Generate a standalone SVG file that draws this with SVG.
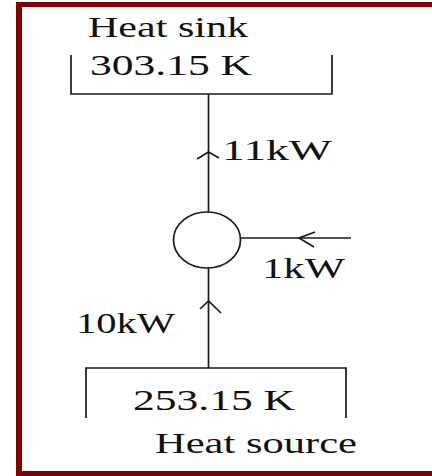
<svg xmlns="http://www.w3.org/2000/svg" width="432" height="476" viewBox="0 0 432 476">
  <style>
    .ln { fill: none; stroke: #1a1a1a; stroke-width: 1.7; }
    .tx { font-family: "Liberation Serif", "Times New Roman", serif; font-size: 30px; fill: #111; }
    .frame { fill: none; stroke: #800000; }
  </style>
  <rect x="0" y="0" width="432" height="476" fill="#ffffff"/>
  <g id="frame">
    <line class="frame" x1="19" y1="2" x2="19" y2="476" stroke-width="6"/>
    <line class="frame" x1="16" y1="4.5" x2="432" y2="4.5" stroke-width="5"/>
    <line class="frame" x1="16" y1="473.5" x2="432" y2="473.5" stroke-width="5"/>
  </g>
  <g id="heat-sink">
    <path class="ln" d="M71,55 V94 H332 V55"/>
    <text class="tx" x="88" y="37" textLength="160" lengthAdjust="spacingAndGlyphs">Heat sink</text>
    <text class="tx" x="90" y="75" textLength="162" lengthAdjust="spacingAndGlyphs">303.15 K</text>
  </g>
  <g id="heat-pump">
    <ellipse class="ln" cx="207" cy="240" rx="33.5" ry="28"/>
  </g>
  <g id="heat-source">
    <path class="ln" d="M86,418 V368 H346 V418"/>
    <text class="tx" x="133" y="410" textLength="162" lengthAdjust="spacingAndGlyphs">253.15 K</text>
    <text class="tx" x="155" y="453" textLength="202" lengthAdjust="spacingAndGlyphs">Heat source</text>
  </g>
  <g id="connectors">
    <line class="ln" x1="208.5" y1="212" x2="208.5" y2="94"/>
    <polyline class="ln" points="197,159 208.5,152 219,158"/>
    <line class="ln" x1="208.5" y1="368" x2="208.5" y2="268"/>
    <polyline class="ln" points="200,309 208.5,301 221,313"/>
    <line class="ln" x1="240" y1="238" x2="351" y2="238"/>
    <polyline class="ln" points="315,232 299,238 314,247"/>
    <text class="tx" x="222" y="160" textLength="110" lengthAdjust="spacingAndGlyphs">11kW</text>
    <text class="tx" x="262" y="278" textLength="83" lengthAdjust="spacingAndGlyphs">1kW</text>
    <text class="tx" x="76" y="333" textLength="99" lengthAdjust="spacingAndGlyphs">10kW</text>
  </g>
</svg>
